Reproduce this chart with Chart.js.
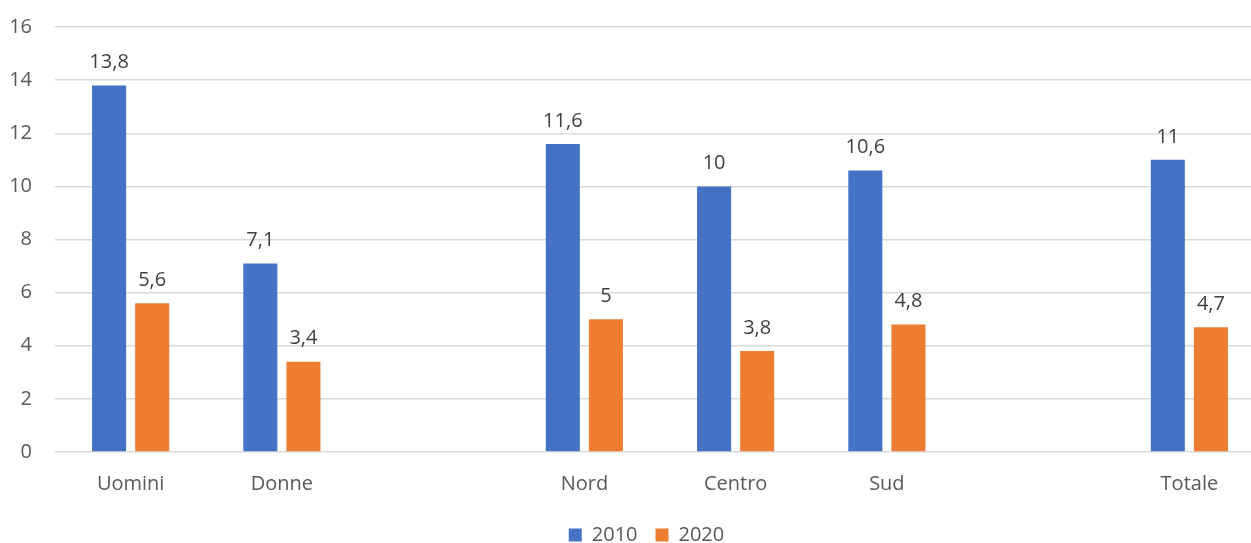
<!DOCTYPE html>
<html>
<head>
<meta charset="utf-8">
<script src="https://cdn.jsdelivr.net/npm/chart.js@4.4.1/dist/chart.umd.min.js"></script>
<style>
  html, body { margin: 0; padding: 0; background: #fff; overflow: hidden; }
  #wrap { width: 1265px; height: 555px; }
</style>
</head>
<body>
<div id="wrap"><canvas id="chart"></canvas></div>
<script>
// categories (empty slots are gaps between groups)
const categories = ['Uomini', 'Donne', '', 'Nord', 'Centro', 'Sud', '', 'Totale'];
const values2010 = [13.8, 7.1, null, 11.6, 10, 10.6, null, 11];
const values2020 = [5.6, 3.4, null, 5, 3.8, 4.8, null, 4.7];
const yTicks = [0, 2, 4, 6, 8, 10, 12, 14, 16];

const FONT = "'Open Sans', 'Noto Sans', sans-serif";

// draws the value above each bar, Italian decimal comma
const valueLabels = {
  id: 'valueLabels',
  afterLayout(chart) {
    // nudge the legend a bit right, like the original
    chart.legend.left += 28;
  },
  afterDatasetsDraw(chart) {
    const ctx = chart.ctx;
    ctx.save();
    ctx.font = '20px ' + FONT;
    ctx.fillStyle = '#404040';
    ctx.textAlign = 'center';
    ctx.textBaseline = 'middle';
    chart.data.datasets.forEach((ds, i) => {
      chart.getDatasetMeta(i).data.forEach((bar, j) => {
        const v = ds.data[j];
        if (v == null) return;
        ctx.fillText(String(v).replace('.', ','), bar.x, bar.y - 23);
      });
    });
    ctx.restore();
  }
};

new Chart(document.getElementById('chart'), {
  type: 'bar',
  data: {
    labels: categories,
    datasets: [
      { label: '2010', data: values2010, backgroundColor: '#4472C4' },
      { label: '2020', data: values2020, backgroundColor: '#ED7D31' }
    ]
  },
  options: {
    responsive: true,
    maintainAspectRatio: false,
    animation: false,
    categoryPercentage: 0.57,
    barPercentage: 0.79,
    layout: { padding: { top: 27, bottom: 0, left: 0, right: 0 } },
    plugins: {
      legend: {
        position: 'bottom',
        labels: {
          font: { family: FONT, size: 20 },
          color: '#595959',
          boxWidth: 13,
          boxHeight: 13,
          padding: 18
        }
      },
      tooltip: { enabled: false }
    },
    scales: {
      x: {
        grid: { display: false },
        border: { display: false },
        afterFit: (scale) => { scale.height -= 1; },
        ticks: { font: { family: FONT, size: 20 }, color: '#595959', padding: 12 }
      },
      y: {
        min: 0,
        max: 16,
        afterBuildTicks: (scale) => { scale.ticks = yTicks.map(v => ({ value: v })); },
        afterFit: (scale) => { scale.width = 55; scale.paddingTop = 0; },
        grid: { color: '#d9d9d9', lineWidth: 1.5, drawTicks: false },
        border: { display: false },
        ticks: { font: { family: FONT, size: 20 }, color: '#595959', padding: 23 }
      }
    }
  },
  plugins: [valueLabels]
});
</script>
</body>
</html>
